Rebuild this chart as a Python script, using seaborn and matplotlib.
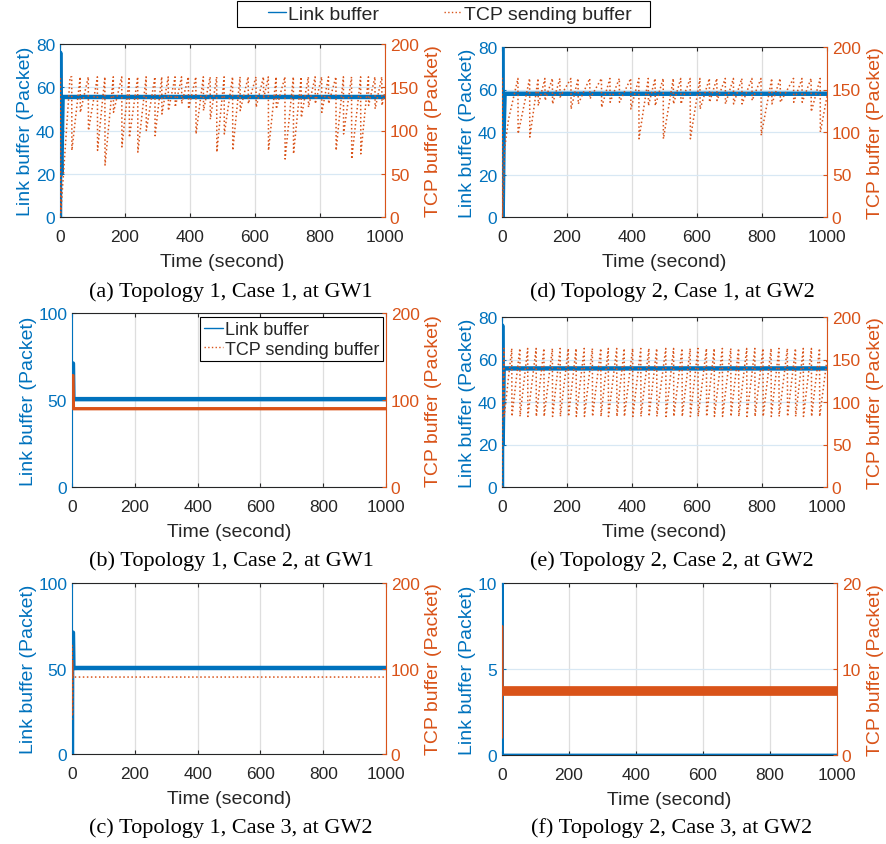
import numpy as np
import pandas as pd
import matplotlib
matplotlib.use("Agg")
import matplotlib.pyplot as plt
from matplotlib.lines import Line2D
from matplotlib.patches import Rectangle
import seaborn as sns

sns.set_style("white")
plt.rcParams['font.family'] = ['Liberation Sans', 'DejaVu Sans']

BLUE = '#0072BD'
ORANGE = '#D95319'
DARK = '#262626'

# ---------------- data ----------------
# Panel (a): Topology 1, Case 1, GW1
a_link_t = [0, 0.6, 2, 4, 8, 1000]
a_link_v = [0, 76, 30, 20, 55.5, 55.5]
a_tcp_start_t = [0, 1, 2.5, 31]
a_tcp_start_v = [0, 160, 5, 162]
a_peak = 162
a_drop_t = [36, 62, 87, 115, 138, 164, 190, 213, 239, 265, 292, 313, 333, 354,
            374, 395, 418, 441, 462, 482, 505, 531, 554, 579, 603, 626, 641, 665,
            692, 718, 742, 764, 785, 805, 826, 849, 872, 897, 925, 949, 969, 990]
a_trough = [77, 121, 100, 77, 60, 121, 81, 92, 75, 100, 94, 119, 123, 127,
            131, 125, 96, 123, 113, 75, 96, 77, 123, 131, 127, 137, 77, 125,
            67, 73, 115, 127, 131, 121, 131, 77, 96, 67, 73, 129, 125, 129]
a_tcp_end = 145

# Panel (d): Topology 2, Case 1, GW2
d_link_t = [0, 0.6, 2, 5, 8, 1000]
d_link_v = [0, 80, 0, 40, 58, 58]
d_tcp_start_t = [0, 0.6, 1.5, 8, 20, 49]
d_tcp_start_v = [0, 163, 0, 80, 115, 163]
d_peak = 163
d_drop_t = [49, 85, 111, 132, 155, 178, 212, 234, 270, 306, 332, 361, 396, 421,
            450, 471, 496, 527, 550, 579, 609, 638, 661, 687, 712, 738, 769, 797,
            830, 856, 897, 923, 951, 979]
d_trough = [98, 94, 131, 137, 133, 141, 127, 133, 139, 129, 135, 135, 127, 92,
            131, 131, 92, 133, 133, 92, 127, 135, 137, 133, 133, 133, 137, 96,
            133, 135, 135, 135, 124, 100]
d_tcp_end = 142

# Panel (b): Topology 1, Case 2, GW1
b_link_t = [0, 0.5, 3, 4.5, 1000]
b_link_v = [64, 71, 71, 50.5, 50.5]
b_tcp_t = [0, 0.5, 3, 4.5, 1000]
b_tcp_v = [95, 128, 128, 90, 90]

# Panel (e): Topology 2, Case 2, GW2
e_link_t = [0, 0.6, 2, 5, 1000]
e_link_v = [0, 76, 20, 55.8, 55.8]
e_tcp_start_t = [0, 2, 6]
e_tcp_start_v = [0, 100, 163]
e_peak = 163
e_trough_level = 83
e_drop_t = [6, 30, 55, 79, 105, 129, 155, 179, 204, 228, 253, 278, 304, 327,
            353, 376, 402, 427, 452, 476, 504, 528, 554, 579, 603, 629, 653, 678,
            704, 728, 753, 778, 803, 828, 852, 878, 903, 927, 952, 977]
e_tcp_end = 150

# Panel (c): Topology 1, Case 3, GW2
c_link_t = [0, 0.5, 3, 4.5, 1000]
c_link_v = [0, 71, 71, 50.3, 50.3]
c_tcp_t = [0, 0.5, 1.5, 2.5, 4, 1000]
c_tcp_v = [40, 127, 45, 110, 90, 90]

# Panel (f): Topology 2, Case 3, GW2
f_link_t = [0, 0.5, 1.5, 1000]
f_link_v = [0, 12, 0, 0]
f_spike_t = [0, 0.5, 1.5]
f_spike_v = [2, 15, 7.45]
f_band_t = [1.5, 1000]
f_band_v = [7.45, 7.45]

xticks = [0, 200, 400, 600, 800, 1000]
legend_labels = ['Link buffer', 'TCP sending buffer']
captions = ["(a) Topology 1, Case 1, at GW1", "(d) Topology 2, Case 1, at GW2",
            "(b) Topology 1, Case 2, at GW1", "(e) Topology 2, Case 2, at GW2",
            "(c) Topology 1, Case 3, at GW2", "(f) Topology 2, Case 3, at GW2"]


def sawtooth(start_t, start_v, drop_t, troughs, peak, end_v):
    t = list(start_t)
    v = list(start_v)
    for dt, tr in zip(drop_t, troughs):
        if dt > t[-1]:
            t.append(dt)
            v.append(peak)
        t.append(dt + 0.6)
        v.append(tr)
    t.append(1000)
    v.append(end_v)
    return t, v


a_tcp_t, a_tcp_v = sawtooth(a_tcp_start_t, a_tcp_start_v, a_drop_t, a_trough, a_peak, a_tcp_end)
d_tcp_t, d_tcp_v = sawtooth(d_tcp_start_t, d_tcp_start_v, d_drop_t, d_trough, d_peak, d_tcp_end)
e_tcp_t, e_tcp_v = sawtooth(e_tcp_start_t, e_tcp_start_v, e_drop_t,
                            [e_trough_level] * len(e_drop_t), e_peak, e_tcp_end)

# ---------------- figure ----------------
W, H = 887, 845
fig = plt.figure(figsize=(W / 100, H / 100), dpi=100)

TICK_FS = 12.5
LABEL_FS = 14
CAP_FS = 16
LEG_FS = 14


def box(l, t, r, b):
    return [l / W, 1 - b / H, (r - l) / W, (b - t) / H]


panels = [
    dict(pos=box(60, 45, 385, 218), ly=(0, 80), lt=[0, 20, 40, 60, 80], ry=(0, 200), rt=[0, 50, 100, 150, 200],
         link=[(a_link_t, a_link_v, 3.2)], tcp=[(a_tcp_t, a_tcp_v, ':', 1.1)], cap=(231, 292)),
    dict(pos=box(502, 48, 827, 218), ly=(0, 80), lt=[0, 20, 40, 60, 80], ry=(0, 200), rt=[0, 50, 100, 150, 200],
         link=[(d_link_t, d_link_v, 3.2)], tcp=[(d_tcp_t, d_tcp_v, ':', 1.1)], cap=(672, 292)),
    dict(pos=box(72, 314, 386, 488), ly=(0, 100), lt=[0, 50, 100], ry=(0, 200), rt=[0, 100, 200],
         link=[(b_link_t, b_link_v, 3.2)], tcp=[(b_tcp_t, b_tcp_v, '-', 2.4)], cap=(231, 561), legend=True),
    dict(pos=box(502, 318, 827, 488), ly=(0, 80), lt=[0, 20, 40, 60, 80], ry=(0, 200), rt=[0, 50, 100, 150, 200],
         link=[(e_link_t, e_link_v, 3.2)], tcp=[(e_tcp_t, e_tcp_v, ':', 1.1)], cap=(672, 561)),
    dict(pos=box(72, 584, 386, 755), ly=(0, 100), lt=[0, 50, 100], ry=(0, 200), rt=[0, 100, 200],
         link=[(c_link_t, c_link_v, 3.2)], tcp=[(c_tcp_t, c_tcp_v, ':', 1.1)], cap=(231, 828)),
    dict(pos=box(502, 584, 837, 756), ly=(0, 10), lt=[0, 5, 10], ry=(0, 20), rt=[0, 10, 20],
         link=[(f_link_t, f_link_v, 2.0)],
         tcp=[(f_spike_t, f_spike_v, '-', 1.5), (f_band_t, f_band_v, '-', 7.0)], cap=(672, 828)),
]

for p, cap in zip(panels, captions):
    ax = fig.add_axes(p['pos'])
    ax2 = ax.twinx()
    for lt_, lv_, lw_ in p['link']:
        df_l = pd.DataFrame({'t': lt_, 'v': lv_})
        sns.lineplot(data=df_l, x='t', y='v', ax=ax, color=BLUE, linewidth=lw_,
                     estimator=None, sort=False, legend=False, zorder=3)
    for tt_, tv_, ls_, tw_ in p['tcp']:
        df_t = pd.DataFrame({'t': tt_, 'v': tv_})
        sns.lineplot(data=df_t, x='t', y='v', ax=ax2, color=ORANGE, linewidth=tw_,
                     linestyle=ls_, estimator=None, sort=False, legend=False, zorder=3)

    ax.set_xlim(0, 1000)
    ax.set_ylim(*p['ly'])
    ax.set_yticks(p['lt'])
    ax2.set_ylim(*p['ry'])
    ax2.set_yticks(p['rt'])
    ax.set_xticks(xticks)

    ax.grid(True, axis='x', color='#dedede', linewidth=0.9)
    ax.grid(True, axis='y', color='#d8e8f4', linewidth=0.9)
    ax.set_axisbelow(True)
    ax2.grid(False)

    ax.set_xlabel('Time (second)', fontsize=LABEL_FS, color=DARK, labelpad=6)
    ax.set_ylabel('Link buffer (Packet)', fontsize=LABEL_FS, color=BLUE, labelpad=1)
    ax2.set_ylabel('TCP buffer (Packet)', fontsize=LABEL_FS, color=ORANGE, labelpad=4)

    ax.tick_params(axis='x', direction='in', length=3, colors=DARK, labelsize=TICK_FS,
                   top=True, bottom=True, pad=9)
    ax.tick_params(axis='y', direction='in', length=3, colors=BLUE, labelsize=TICK_FS,
                   left=True, right=False, pad=3.5)
    ax2.tick_params(axis='y', direction='in', length=3, colors=ORANGE, labelsize=TICK_FS,
                    left=False, right=True, pad=3.5)

    for s in ('top', 'bottom'):
        ax.spines[s].set_color(DARK)
        ax.spines[s].set_linewidth(0.8)
        ax2.spines[s].set_visible(False)
    ax.spines['left'].set_color(BLUE)
    ax.spines['left'].set_linewidth(0.8)
    ax.spines['right'].set_visible(False)
    ax2.spines['left'].set_visible(False)
    ax2.spines['right'].set_color(ORANGE)
    ax2.spines['right'].set_linewidth(0.8)

    cx, cy = p['cap']
    fig.text(cx / W, 1 - cy / H, cap, ha='center', va='center', fontsize=CAP_FS,
             family=['Liberation Serif', 'DejaVu Serif'], color='black')

    if p.get('legend'):
        handles = [Line2D([], [], color=BLUE, lw=1.0),
                   Line2D([], [], color=ORANGE, lw=1.0, linestyle=':')]
        leg = ax2.legend(handles, legend_labels, loc='upper right',
                         bbox_to_anchor=(0.99, 0.975), fontsize=13, frameon=True,
                         fancybox=False, edgecolor='black', framealpha=1,
                         handlelength=1.05, handletextpad=0.1, borderpad=0.2,
                         labelspacing=0.15, borderaxespad=0.0)
        leg.get_frame().set_linewidth(0.8)

# top shared legend: box drawn as a figure patch, entries placed inside it
fig.patches.append(Rectangle((237 / W, 1 - 28 / H), 413 / W, 26 / H, transform=fig.transFigure,
                             facecolor='white', edgecolor='black', linewidth=0.8, zorder=5))
handles = [Line2D([], [], color=BLUE, lw=1.0),
           Line2D([], [], color=ORANGE, lw=1.0, linestyle=':')]
leg = fig.legend(handles, legend_labels, loc='center left',
                 bbox_to_anchor=(268 / W, 1 - 15 / H), ncol=2, fontsize=LEG_FS, frameon=False,
                 handlelength=0.95, handletextpad=0.1, borderpad=0.0, borderaxespad=0.0,
                 columnspacing=3.3)
leg.set_zorder(6)

fig.savefig('out.png', dpi=100)
